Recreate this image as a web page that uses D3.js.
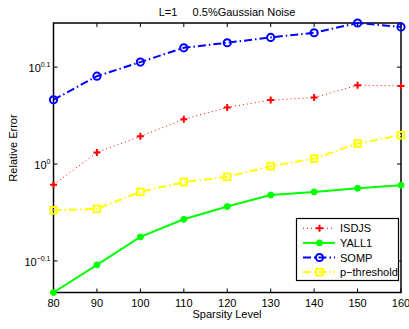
<!DOCTYPE html>
<html>
<head>
<meta charset="utf-8">
<script src="https://cdn.jsdelivr.net/npm/d3@7"></script>
<style>
  html, body { margin: 0; padding: 0; background: #fff; }
  svg { display: block; font-family: "Liberation Sans", Arial, Helvetica, sans-serif; }
</style>
</head>
<body>
<svg id="chart" width="409" height="329"></svg>
<script>
// Sparsity levels on the x axis
const sparsity = [80, 90, 100, 110, 120, 130, 140, 150, 160];

// Relative error for each method
const isdjs      = [0.952, 1.028, 1.068, 1.112, 1.144, 1.164, 1.171, 1.206, 1.204];
const yall1      = [0.737, 0.787, 0.841, 0.877, 0.904, 0.929, 0.936, 0.944, 0.951];
const somp       = [1.165, 1.232, 1.274, 1.318, 1.334, 1.351, 1.366, 1.398, 1.385];
const pThreshold = [0.896, 0.899, 0.936, 0.958, 0.970, 0.995, 1.013, 1.050, 1.071];

// Tick positions
const xTicks = [80, 90, 100, 110, 120, 130, 140, 150, 160];
const yTickExps = ["0.1", "0", "-0.1"];

const seriesNames = ["ISDJS", "YALL1", "SOMP", "p\u2212threshold"];

const svg = d3.select("#chart");
const m = { left: 53.5, right: 401, top: 23, bottom: 292.5 };

const allVals = [].concat(isdjs, yall1, somp, pThreshold);
const x = d3.scaleLinear().domain([80, 160]).range([m.left, m.right]);
const y = d3.scaleLog().domain(d3.extent(allVals)).range([m.bottom, m.top]);

const series = [
  { name: seriesNames[0], values: isdjs, color: "#ff0000", width: 1, dash: "1,3", marker: "plus" },
  { name: seriesNames[1], values: yall1, color: "#00ff00", width: 2, dash: null, marker: "dot" },
  { name: seriesNames[2], values: somp, color: "#0000ff", width: 2, dash: "8,3,1.5,3", marker: "circle" },
  { name: seriesNames[3], values: pThreshold, color: "#ffff00", width: 2, dash: "8,3,1.5,3", marker: "square" }
];

// Title
svg.append("text")
  .attr("x", 227).attr("y", 16)
  .attr("text-anchor", "middle")
  .attr("font-size", 11)
  .attr("xml:space", "preserve")
  .text("L=1     0.5%Gaussian Noise");

// Axes box
const g = svg.append("g");
g.append("rect")
  .attr("x", m.left).attr("y", m.top)
  .attr("width", m.right - m.left).attr("height", m.bottom - m.top)
  .attr("fill", "none").attr("stroke", "#000").attr("stroke-width", 1.5);

// X ticks (bottom and top, pointing inward) and labels
const tickLen = 4;
xTicks.forEach(t => {
  const px = x(t);
  g.append("line").attr("x1", px).attr("x2", px).attr("y1", m.bottom).attr("y2", m.bottom - tickLen)
    .attr("stroke", "#000").attr("stroke-width", 1);
  g.append("line").attr("x1", px).attr("x2", px).attr("y1", m.top).attr("y2", m.top + tickLen)
    .attr("stroke", "#000").attr("stroke-width", 1);
  g.append("text").attr("x", px).attr("y", 307)
    .attr("text-anchor", "middle").attr("font-size", 11).text(t);
});

// Y ticks at powers of ten (exponents) with superscript labels
yTickExps.forEach(e => {
  const py = y(Math.pow(10, +e));
  g.append("line").attr("x1", m.left).attr("x2", m.left + tickLen).attr("y1", py).attr("y2", py)
    .attr("stroke", "#000").attr("stroke-width", 1);
  g.append("line").attr("x1", m.right).attr("x2", m.right - tickLen).attr("y1", py).attr("y2", py)
    .attr("stroke", "#000").attr("stroke-width", 1);
  const lbl = g.append("text").attr("x", m.left - 3).attr("y", py + 5)
    .attr("text-anchor", "end").attr("font-size", 11);
  lbl.append("tspan").text("10");
  lbl.append("tspan").attr("dy", -5).attr("font-size", 7).text(e.replace("-", "\u2212"));
});

// Axis titles
svg.append("text").attr("x", 227).attr("y", 318)
  .attr("text-anchor", "middle").attr("font-size", 11).text("Sparsity Level");
svg.append("text")
  .attr("transform", "translate(17,148) rotate(-90)")
  .attr("text-anchor", "middle").attr("font-size", 11).text("Relative Error");

// Marker drawing
function drawMarker(sel, type, color, cx, cy) {
  if (type === "plus") {
    sel.append("path").attr("d", `M${cx - 3.5},${cy}H${cx + 3.5}M${cx},${cy - 3.5}V${cy + 3.5}`)
      .attr("stroke", color).attr("stroke-width", 2).attr("fill", "none");
  } else if (type === "dot") {
    sel.append("circle").attr("cx", cx).attr("cy", cy).attr("r", 3)
      .attr("fill", color).attr("stroke", color).attr("stroke-width", 1);
  } else if (type === "circle") {
    sel.append("circle").attr("cx", cx).attr("cy", cy).attr("r", 3.6)
      .attr("fill", "none").attr("stroke", color).attr("stroke-width", 2);
  } else if (type === "square") {
    sel.append("rect").attr("x", cx - 3.3).attr("y", cy - 3.3).attr("width", 6.6).attr("height", 6.6)
      .attr("fill", "none").attr("stroke", color).attr("stroke-width", 2);
  }
}

// Lines and markers
const line = d3.line().x((d, i) => x(sparsity[i])).y(d => y(d));
series.forEach(s => {
  const p = svg.append("path").datum(s.values)
    .attr("d", line).attr("fill", "none")
    .attr("stroke", s.color).attr("stroke-width", s.width);
  if (s.dash) p.attr("stroke-dasharray", s.dash);
  const mg = svg.append("g");
  s.values.forEach((v, i) => drawMarker(mg, s.marker, s.color, x(sparsity[i]), y(v)));
});

// Legend
const lg = svg.append("g");
lg.append("rect").attr("x", 296.5).attr("y", 218.5).attr("width", 102).attr("height", 62)
  .attr("fill", "#fff").attr("stroke", "#000").attr("stroke-width", 1.2);
series.forEach((s, i) => {
  const ly = 228.3 + i * 14.6;
  const ln = lg.append("line").attr("x1", 303).attr("x2", 335).attr("y1", ly).attr("y2", ly)
    .attr("stroke", s.color).attr("stroke-width", s.width);
  if (s.dash) ln.attr("stroke-dasharray", s.dash);
  drawMarker(lg, s.marker, s.color, 319.5, ly);
  lg.append("text").attr("x", 340).attr("y", ly + 4).attr("font-size", 11).text(s.name);
});
</script>
</body>
</html>
